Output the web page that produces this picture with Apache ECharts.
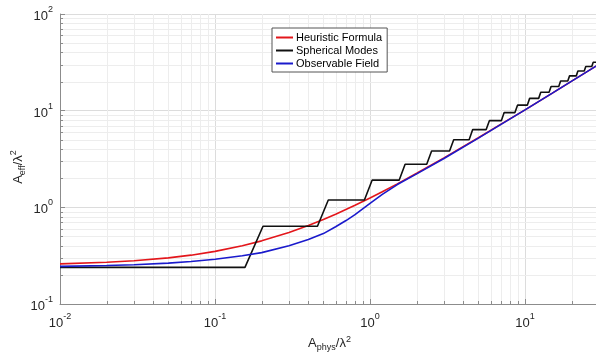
<!doctype html>
<html>
<head>
<meta charset="utf-8">
<script src="https://cdn.jsdelivr.net/npm/echarts@6/dist/echarts.min.js"></script>
<style>
  html, body { margin: 0; padding: 0; background: #fff; }
  #chart { width: 596px; height: 353px; }
</style>
</head>
<body>
<div id="chart"></div>
<script>
// heuristic formula (red)
const heurX = [0.01, 0.02, 0.03, 0.05, 0.07, 0.1, 0.15, 0.2, 0.3, 0.4, 0.5, 0.6, 0.8, 1, 1.2, 1.5, 2, 3, 5, 7, 10, 15, 20, 30];
const heurY = [0.26, 0.27, 0.28, 0.30, 0.32, 0.35, 0.40, 0.45, 0.55, 0.65, 0.75, 0.85, 1.05, 1.25, 1.45, 1.75, 2.25, 3.25, 5.25, 7.25, 10.2, 15.2, 20.2, 30.2];

// spherical modes (black staircase)
const modeX = [0.01, 0.156, 0.204, 0.458, 0.538, 0.920, 1.031, 1.541, 1.684, 2.321, 2.496, 3.259, 3.466, 4.358, 4.596, 5.615,
               5.886, 7.031, 7.334, 8.607, 8.941, 10.34, 10.71, 12.24, 12.63, 14.29, 14.72, 16.50, 16.96, 18.87, 19.37, 21.40,
               21.93, 24.09, 24.65, 26.94, 27.53, 30];
const modeY = [0.239, 0.239, 0.637, 0.637, 1.19, 1.19, 1.91, 1.91, 2.79, 2.79, 3.82, 3.82, 5.01, 5.01, 6.37, 6.37,
               7.88, 7.88, 9.55, 9.55, 11.4, 11.4, 13.4, 13.4, 15.5, 15.5, 17.8, 17.8, 20.3, 20.3, 22.9, 22.9,
               25.7, 25.7, 28.6, 28.6, 31.7, 31.7];

// observable field (blue)
const obsX = [0.01, 0.02, 0.03, 0.05, 0.07, 0.1, 0.15, 0.2, 0.3, 0.4, 0.5, 0.6, 0.7, 0.8, 1, 1.2, 1.5, 2, 3, 5, 7, 10, 15, 20, 30];
const obsY = [0.245, 0.25, 0.255, 0.265, 0.275, 0.29, 0.315, 0.34, 0.40, 0.465, 0.535, 0.63, 0.73, 0.84, 1.10, 1.36, 1.72, 2.22, 3.2, 5.2, 7.22, 10.2, 15.2, 20.2, 30.2];

// axis ranges / ticks
const xDecades = [0.01, 0.1, 1, 10];
const yDecades = [0.1, 1, 10];
const minorMult = [2, 3, 4, 5, 6, 7, 8, 9];
const xMin = 0.01, xMax = 30, yMin = 0.1, yMax = 100;

const FONT = '"Liberation Sans", Arial, sans-serif';
const TXT = '#262626';

function zip(xs, ys) { return xs.map((x, i) => [x, ys[i]]); }

const xMinor = [], yMinor = [];
xDecades.forEach(d => minorMult.forEach(m => { const v = d * m; if (v < xMax) xMinor.push([v, 1]); }));
yDecades.forEach(d => minorMult.forEach(m => yMinor.push([1, d * m])));

const tickRich = {
    b: {fontSize: 13, fontFamily: FONT, color: TXT, lineHeight: 18, verticalAlign: 'bottom'},
    s: {fontSize: 9, fontFamily: FONT, color: TXT, lineHeight: 18, verticalAlign: 'top'}
};
function powLabel(v) {
    const e = Math.round(Math.log10(v));
    if (Math.abs(v - Math.pow(10, e)) / v > 1e-6) return '';
    return '{b|10}{s|' + e + '}';
}

// minor grid lines + inward minor ticks
function minorXItem(params, api) {
    const cs = params.coordSys;
    const px = Math.round(api.coord([api.value(0), 1])[0]) + 0.5;
    const yb = cs.y + cs.height;
    return {type: 'group', children: [
        {type: 'line', shape: {x1: px, y1: cs.y, x2: px, y2: yb}, style: {stroke: '#ededed', lineWidth: 1}},
        {type: 'line', shape: {x1: px, y1: yb, x2: px, y2: yb - 3}, style: {stroke: '#8c8c8c', lineWidth: 1}}
    ]};
}
function minorYItem(params, api) {
    const cs = params.coordSys;
    const py = Math.round(api.coord([1, api.value(1)])[1]) + 0.5;
    return {type: 'group', children: [
        {type: 'line', shape: {x1: cs.x, y1: py, x2: cs.x + cs.width, y2: py}, style: {stroke: '#ededed', lineWidth: 1}},
        {type: 'line', shape: {x1: cs.x, y1: py, x2: cs.x + 3, y2: py}, style: {stroke: '#8c8c8c', lineWidth: 1}}
    ]};
}

let chart = echarts.init(document.getElementById('chart'), null, {renderer: 'canvas'});
chart.setOption({
    animation: false,
    backgroundColor: '#fff',
    grid: {left: 60, right: -3, top: 14, bottom: 49, outerBoundsMode: 'none', containLabel: false},
    legend: {
        orient: 'vertical', left: 272, top: 28,
        data: ['Heuristic Formula', 'Spherical Modes', 'Observable Field'],
        icon: 'rect', itemWidth: 17, itemHeight: 2, itemGap: 2,
        padding: [4, 5, 3, 4],
        backgroundColor: '#fff', borderColor: '#555', borderWidth: 1,
        textStyle: {fontSize: 11, fontFamily: FONT, color: '#000', padding: [0, 0, 0, -2]}
    },
    xAxis: {
        type: 'log', logBase: 10, min: xMin, max: xMax,
        name: '{a|A}{sub|phys}{a|/λ}{sup|2}', nameLocation: 'middle', nameGap: 29,
        nameTextStyle: {rich: {
            a: {fontSize: 13, fontFamily: FONT, color: TXT, lineHeight: 18, verticalAlign: 'middle'},
            sub: {fontSize: 9, fontFamily: FONT, color: TXT, padding: [9, 0, 0, 0]},
            sup: {fontSize: 9, fontFamily: FONT, color: TXT, padding: [0, 0, 8, 0]}
        }},
        axisLine: {lineStyle: {color: '#8c8c8c', width: 1}},
        axisTick: {inside: true, length: 5, lineStyle: {color: '#8c8c8c'}},
        axisLabel: {formatter: powLabel, rich: tickRich, margin: 8, showMaxLabel: false},
        splitLine: {show: true, lineStyle: {color: '#dcdcdc', width: 1}}
    },
    yAxis: {
        type: 'log', logBase: 10, min: yMin, max: yMax,
        axisLine: {show: true, lineStyle: {color: '#8c8c8c', width: 1}},
        axisTick: {show: true, inside: true, length: 5, lineStyle: {color: '#8c8c8c'}},
        axisLabel: {formatter: powLabel, rich: tickRich, margin: 7},
        splitLine: {show: true, lineStyle: {color: '#dcdcdc', width: 1}}
    },
    graphic: [{
        type: 'text', x: 18, y: 167, rotation: Math.PI / 2,
        style: {
            text: '{a|A}{sub|eff}{a|/λ}{sup|2}', align: 'center', verticalAlign: 'middle',
            rich: {
                a: {fontSize: 13, fontFamily: FONT, fill: TXT, lineHeight: 18},
                sub: {fontSize: 9, fontFamily: FONT, fill: TXT, padding: [9, 0, 0, 0]},
                sup: {fontSize: 9, fontFamily: FONT, fill: TXT, padding: [0, 0, 8, 0]}
            }
        }
    }],
    series: [
        {type: 'custom', renderItem: minorXItem, data: xMinor, silent: true, z: 1, encode: {x: 0, y: 1}},
        {type: 'custom', renderItem: minorYItem, data: yMinor, silent: true, z: 1, encode: {x: 0, y: 1}},
        {name: 'Heuristic Formula', type: 'line', data: zip(heurX, heurY), showSymbol: false, symbol: 'none',
         lineStyle: {color: '#e3161b', width: 1.6}, itemStyle: {color: '#e3161b'}, z: 3},
        {name: 'Spherical Modes', type: 'line', data: zip(modeX, modeY), showSymbol: false, symbol: 'none',
         lineStyle: {color: '#111', width: 1.6}, itemStyle: {color: '#111'}, z: 4},
        {name: 'Observable Field', type: 'line', data: zip(obsX, obsY), showSymbol: false, symbol: 'none',
         lineStyle: {color: '#1a1acc', width: 1.6}, itemStyle: {color: '#1a1acc'}, z: 5}
    ]
});

window.onresize = function () {
    chart.resize();
};
</script>
</body>
</html>
